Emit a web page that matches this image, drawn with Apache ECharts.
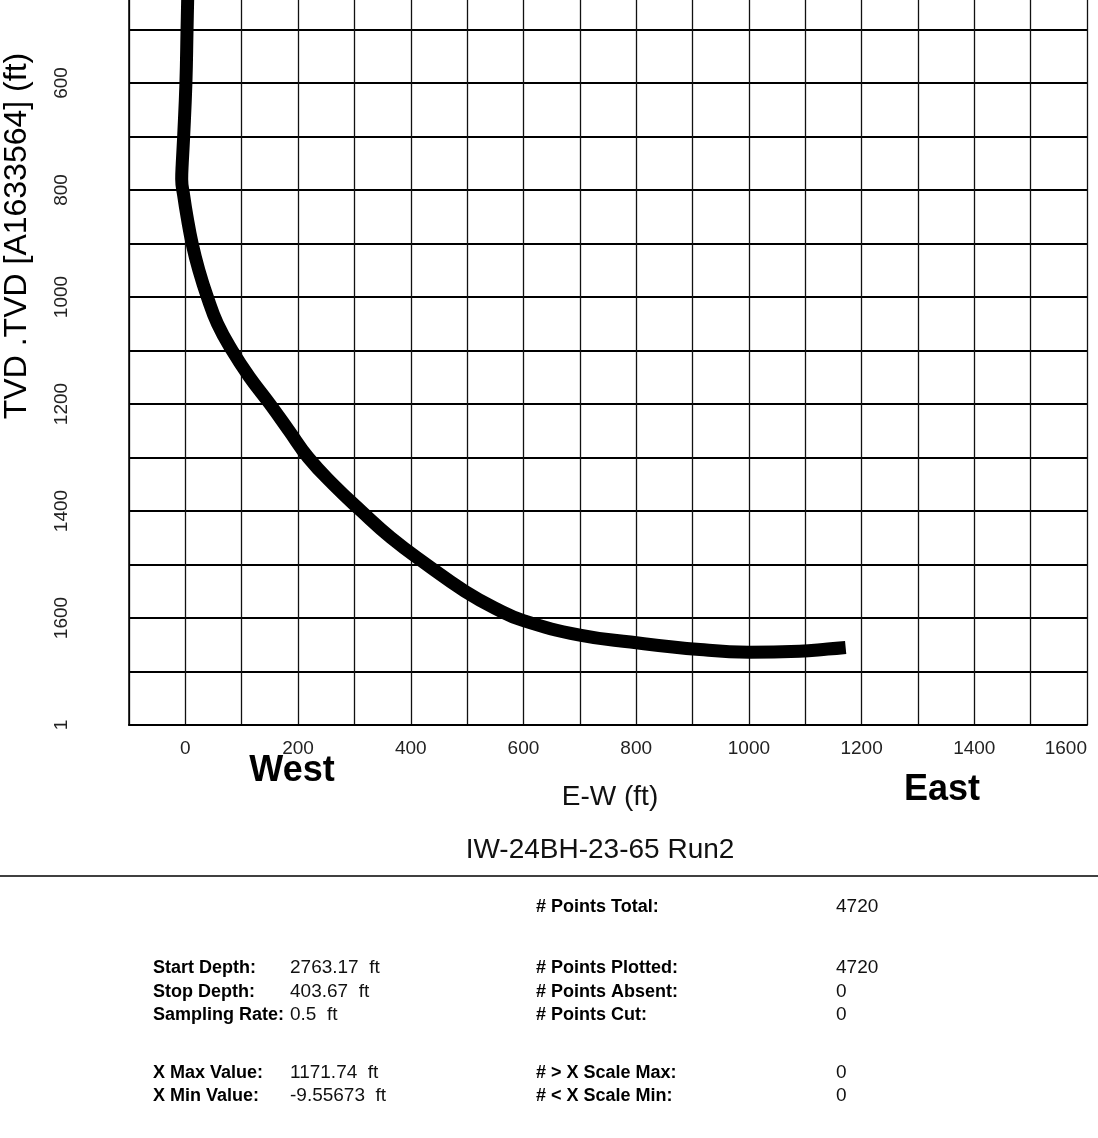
<!DOCTYPE html>
<html>
<head>
<meta charset="utf-8">
<script src="https://cdn.jsdelivr.net/npm/echarts@6/dist/echarts.min.js"></script>
<style>
html,body{margin:0;padding:0;background:#fff;overflow:hidden;}
#chart{position:absolute;left:0;top:-27px;width:1098px;height:1165px;}
</style>
</head>
<body>
<div id="chart"></div>
<script>
// Trajectory: E-W offset (ft) and TVD (ft)
const ewOffset = [5, 4, 3, 1, -3, -5.5, -6.5, -3, 3, 12, 24, 39, 57, 83, 114, 150, 184, 218, 262, 312, 365, 428, 496, 550, 600, 700, 790, 913, 1000, 1090, 1140, 1171.74];
const tvdDepth = [404, 450, 500, 600, 700, 750, 780, 810, 850, 900, 950, 1000, 1050, 1100, 1150, 1200, 1250, 1300, 1350, 1400, 1450, 1500, 1550, 1582, 1605, 1632, 1645, 1659, 1664, 1662, 1658, 1655];

const xTickLabels = [0, 200, 400, 600, 800, 1000, 1200, 1400, 1600];
const yTickLabels = [600, 800, 1000, 1200, 1400, 1600];

const titleText = 'IW-24BH-23-65 Run2';
const xAxisTitle = 'E-W (ft)';
const yAxisTitle = 'TVD .TVD [A1633564] (ft)';

const statLabelsLeft = ['Start Depth:', 'Stop Depth:', 'Sampling Rate:', 'X Max Value:', 'X Min Value:'];
const statValuesLeft = ['2763.17  ft', '403.67  ft', '0.5  ft', '1171.74  ft', '-9.55673  ft'];
const statLabelsRight = ['# Points Total:', '# Points Plotted:', '# Points Absent:', '# Points Cut:', '# > X Scale Max:', '# < X Scale Min:'];
const statValuesRight = ['4720', '4720', '0', '0', '0', '0'];

const rowYLeft = [968, 992, 1015, 1073, 1096];
const rowYRight = [907, 968, 992, 1015, 1073, 1096];

const OFF = 27; // chart canvas is shifted up by this many pixels
const chart = echarts.init(document.getElementById('chart'), null, {renderer: 'canvas'});
const FONT = '"Liberation Sans", Arial, Helvetica, sans-serif';

const points = ewOffset.map((x, i) => [x, tvdDepth[i]]);

const graphics = [];
function txt(x, y, text, font, fill, align, rot) {
  graphics.push({type: 'text', x: x, y: y + OFF, rotation: rot || 0,
    style: {text: text, fill: fill, font: font, textAlign: align || 'center', textVerticalAlign: 'middle'}});
}
txt(17, 236, yAxisTitle, '32px ' + FONT, '#000', 'center', Math.PI / 2);
txt(292, 771, 'West', 'bold 36px ' + FONT, '#000');
txt(942, 790, 'East', 'bold 36px ' + FONT, '#000');
txt(610, 797, xAxisTitle, '28px ' + FONT, '#111');
txt(600, 850, titleText, '28px ' + FONT, '#111');
graphics.push({type: 'line', shape: {x1: 0, y1: 876 + OFF, x2: 1098, y2: 876 + OFF}, style: {stroke: '#000', lineWidth: 1.5}});

statLabelsLeft.forEach((t, i) => {
  txt(153, rowYLeft[i], t, 'bold 18px ' + FONT, '#000', 'left');
  txt(290, rowYLeft[i], statValuesLeft[i], '19px ' + FONT, '#111', 'left');
});
statLabelsRight.forEach((t, i) => {
  txt(536, rowYRight[i], t, 'bold 18px ' + FONT, '#000', 'left');
  txt(836, rowYRight[i], statValuesRight[i], '19px ' + FONT, '#111', 'left');
});

chart.setOption({
  animation: false,
  backgroundColor: '#fff',
  grid: {left: 129, right: 11, top: 0, bottom: 413, containLabel: false},
  xAxis: {
    type: 'value', min: -100, max: 1600, interval: 100,
    axisLine: {show: true, onZero: false, lineStyle: {color: '#000', width: 2}},
    axisTick: {show: false},
    splitLine: {show: true, lineStyle: {color: '#111', width: 1.3}},
    axisLabel: {
      show: true, margin: 14, color: '#222', fontSize: 19, fontFamily: FONT,
      alignMaxLabel: 'right',
      formatter: v => (xTickLabels.indexOf(v) >= 0 ? String(v) : '')
    }
  },
  yAxis: {
    type: 'value', min: 400, max: 1800, interval: 100, inverse: true,
    axisLine: {show: true, onZero: false, lineStyle: {color: '#000', width: 1.5}},
    axisTick: {show: false},
    splitLine: {show: true, lineStyle: {color: '#000', width: 2}},
    axisLabel: {
      show: true, rotate: 90, margin: 58, color: '#222', fontSize: 19, fontFamily: FONT,
      formatter: v => (yTickLabels.indexOf(v) >= 0 ? String(v) : (v === 1800 ? '1' : ''))
    }
  },
  series: [{
    type: 'line',
    data: points,
    showSymbol: false,
    symbol: 'none',
    smooth: 0.45,
    clip: true,
    lineStyle: {color: '#000', width: 13, cap: 'butt', join: 'round'}
  }],
  graphic: graphics
});
</script>
</body>
</html>
